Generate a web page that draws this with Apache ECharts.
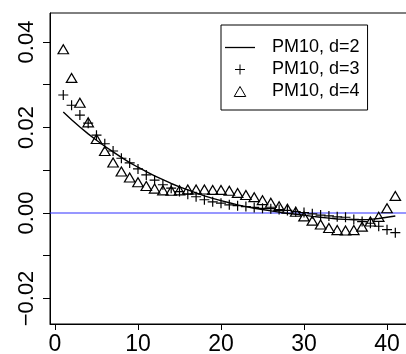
<!DOCTYPE html>
<html>
<head>
<meta charset="utf-8">
<script src="https://cdn.jsdelivr.net/npm/echarts@6/dist/echarts.min.js"></script>
<style>
html,body{margin:0;padding:0;background:#fff;}
#c{width:406px;height:354px;}
</style>
</head>
<body>
<div id="c"></div>
<script>
var lags = [1,2,3,4,5,6,7,8,9,10,11,12,13,14,15,16,17,18,19,20,21,22,23,24,25,26,27,28,29,30,31,32,33,34,35,36,37,38,39,40,41];
var pm10d2 = [0.0236,0.0218,0.0201,0.0185,0.0170,0.0156,0.0143,0.0130,0.0118,0.0107,0.0097,0.0087,0.0078,0.0069,0.0061,0.0054,0.0047,0.0040,0.0034,0.0029,0.0024,0.0019,0.0015,0.0011,0.0008,0.0005,0.0002,-0.0001,-0.0003,-0.0005,-0.0008,-0.0010,-0.0012,-0.0014,-0.0015,-0.0016,-0.0016,-0.0015,-0.0013,-0.0010,-0.0007];
var pm10d3 = [0.0276,0.0252,0.0229,0.0210,0.0182,0.0162,0.0145,0.0128,0.0117,0.0103,0.0089,0.0077,0.0066,0.0058,0.0050,0.0044,0.0038,0.0031,0.0026,0.0023,0.0019,0.0017,0.0015,0.0013,0.0011,0.0010,0.0008,0.0006,0.0003,0.0001,-0.0002,-0.0005,-0.0007,-0.0009,-0.0010,-0.0015,-0.0020,-0.0024,-0.0031,-0.0039,-0.0046];
var pm10d4 = [0.0383,0.0316,0.0258,0.0212,0.0173,0.0145,0.0118,0.0097,0.0083,0.0072,0.0063,0.0057,0.0053,0.0052,0.0053,0.0055,0.0055,0.0055,0.0054,0.0054,0.0052,0.0047,0.0042,0.0037,0.0030,0.0024,0.0016,0.0010,0.0003,-0.0008,-0.0018,-0.0027,-0.0035,-0.0040,-0.0041,-0.0040,-0.0032,-0.0020,-0.0009,0.0011,0.0040];
var seriesNames = ['PM10, d=2','PM10, d=3','PM10, d=4'];
var xTicks = [0,10,20,30,40];
var yTicks = [-0.02,-0.01,0,0.01,0.02,0.03,0.04];
var yLabels = [-0.02,0,0.02,0.04];
var refLine = 0;
var xRange = [-0.6, 42.6];
var yRange = [-0.02597, 0.04678];

function pairs(v){ return lags.map(function(k,i){ return [k, v[i]]; }); }

var chart = echarts.init(document.getElementById('c'), null, {renderer:'canvas'});
var font = '"Liberation Sans", Arial, sans-serif';
chart.setOption({
  animation:false,
  backgroundColor:'#fff',
  grid:{left:50, top:13, bottom:30, right:-2.6, show:true, borderColor:'#000', borderWidth:1, backgroundColor:'transparent', outerBoundsMode:'none', containLabel:false},
  xAxis:{type:'value', min:xRange[0], max:xRange[1],
    axisLine:{show:true, onZero:false, lineStyle:{color:'#000', width:1}},
    axisTick:{show:true, length:6, customValues:xTicks, lineStyle:{color:'#000'}},
    axisLabel:{show:true, customValues:xTicks, margin:9, color:'#000', fontSize:23, fontFamily:font},
    splitLine:{show:false}},
  yAxis:{type:'value', min:yRange[0], max:yRange[1],
    axisLine:{show:true, onZero:false, lineStyle:{color:'#000', width:1}},
    axisTick:{show:true, length:7, customValues:yTicks, lineStyle:{color:'#000'}},
    axisLabel:{show:true, customValues:yLabels, rotate:90, margin:12, color:'#000', fontSize:22, fontFamily:font,
      formatter:function(v){ var s = Math.abs(v).toFixed(2); return (v < -1e-9 ? '\u2212' : '') + s; }},
    splitLine:{show:false}},
  legend:{show:true, orient:'vertical', left:221, top:25, padding:[12,8,8,4], itemGap:1,
    itemWidth:30, itemHeight:10, borderColor:'#000', borderWidth:1, backgroundColor:'#fff',
    textStyle:{color:'#000', fontSize:18, fontFamily:font, lineHeight:21, padding:[0,0,0,12]},
    itemStyle:{borderWidth:1},
    data:[{name:seriesNames[0], icon:'path://M0,0L30,0L30,1.3L0,1.3Z'},{name:seriesNames[1]},{name:seriesNames[2]}]},
  series:[
    {name:'ref', type:'line', data:[[xRange[0], refLine],[xRange[1], refLine]], symbol:'none', showSymbol:false,
      silent:true, lineStyle:{color:'#3030ff', width:1.1}, itemStyle:{color:'#3030ff'}, z:1},
    {name:seriesNames[0], type:'line', data:pairs(pm10d2), symbol:'none', showSymbol:false,
      lineStyle:{color:'#000', width:1.4}, itemStyle:{color:'#000'}, z:3},
    {name:seriesNames[1], type:'scatter', data:pairs(pm10d3),
      symbol:'path://M0,5L10,5M5,0L5,10', symbolSize:10,
      itemStyle:{color:'rgba(0,0,0,0)', borderColor:'#000', borderWidth:1.2, opacity:1}, z:4},
    {name:seriesNames[2], type:'scatter', data:pairs(pm10d4),
      symbol:'path://M5,0L10,8.66L0,8.66Z', symbolSize:[10.5,9],
      itemStyle:{color:'rgba(0,0,0,0)', borderColor:'#000', borderWidth:1.2, opacity:1}, z:4}
  ]
});
</script>
</body>
</html>
